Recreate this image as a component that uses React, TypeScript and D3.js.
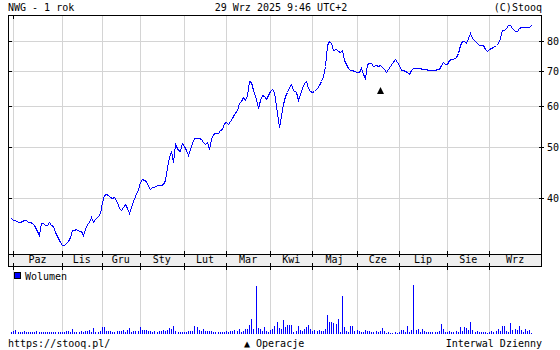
import React from "react";
import * as d3 from "d3";

// ---- data ----
const prices: number[] = [
  36.6, 36.3, 36.2, 36.0, 35.9, 36.1, 36.3, 36.2, 35.9, 35.9,
  35.8, 35.4, 34.8, 34.0, 35.8, 35.8, 35.5, 35.5, 35.9, 35.5,
  35.3, 34.4, 33.5, 32.9, 32.5, 32.4, 32.7, 33.1, 33.7, 34.7,
  34.7, 34.9, 34.5, 34.5, 34.0, 34.8, 35.7, 35.9, 36.8, 36.0,
  36.4, 36.9, 37.4, 39.3, 40.5, 40.7, 40.5, 40.2, 40.0, 40.1,
  39.2, 38.3, 37.9, 38.4, 38.9, 38.3, 37.4, 38.4, 39.4, 40.3,
  41.6, 42.9, 43.5, 43.3, 43.1, 42.2, 41.5, 41.9, 42.0, 42.4,
  42.4, 42.4, 42.5, 43.3, 45.9, 48.0, 49.1, 46.9, 50.8, 49.4,
  49.2, 51.0, 50.3, 49.4, 48.4, 49.7, 50.9, 52.1, 52.1, 52.1,
  51.9, 51.1, 50.8, 51.1, 49.7, 51.8, 53.1, 53.3, 53.3, 53.9,
  54.1, 55.7, 55.9, 55.4, 56.1, 57.0, 58.0, 58.9, 60.9, 61.4,
  62.3, 61.7, 63.0, 67.0, 66.7, 64.4, 62.0, 59.5, 61.6, 62.9,
  62.7, 62.0, 62.9, 64.2, 64.8, 63.9, 58.2, 54.7, 57.5, 60.6,
  62.6, 63.8, 65.4, 66.2, 64.4, 63.9, 61.6, 63.3, 65.1, 66.5,
  66.9, 64.9, 64.0, 63.8, 64.0, 64.9, 65.8, 67.0, 68.5, 71.6,
  78.4, 80.0, 79.2, 76.9, 77.3, 76.6, 76.2, 76.9, 73.6, 72.1,
  71.1, 70.2, 70.2, 70.1, 69.8, 69.8, 71.0, 69.1, 67.8, 72.1,
  72.6, 72.4, 71.6, 71.9, 71.5, 71.8, 71.4, 70.7, 69.7, 70.7,
  71.5, 72.4, 74.0, 73.0, 71.8, 70.4, 70.2, 70.0, 69.8, 69.0,
  70.5, 71.1, 71.1, 71.1, 71.0, 70.8, 70.7, 70.7, 70.4, 70.4,
  70.4, 70.5, 70.6, 70.8, 72.0, 72.8, 72.2, 72.3, 73.6, 73.8,
  73.8, 74.4, 76.0, 78.4, 79.8, 79.8, 79.3, 80.9, 82.7, 81.0,
  79.9, 79.2, 78.6, 78.6, 78.4, 77.3, 76.4, 77.2, 77.6, 78.0,
  78.4, 79.3, 81.1, 83.8, 84.0, 84.6, 86.0, 85.9, 84.8, 83.5,
  83.4, 84.6, 85.0, 85.0, 85.0, 85.0, 85.2, 85.7,
];

// volume, thousands of shares
const volumes: number[] = [
  2, 3, 4, 2, 2, 2, 3, 2, 2, 2,
  2, 2, 3, 2, 2, 2, 2, 2, 2, 2,
  2, 2, 2, 2, 2, 2.5, 3, 3, 2, 5,
  2, 2, 2, 3, 2, 3, 3, 4, 2, 6,
  2, 2, 3, 7, 7, 3, 3, 3, 2, 2,
  3, 3, 3, 4, 2, 4, 6, 2, 3, 3,
  3, 7, 4, 4, 4, 3, 3, 2, 3, 2,
  3, 3, 4, 3, 4, 6, 5, 8, 3, 2,
  2, 2, 2, 2, 3, 3, 3, 8, 7, 4,
  3, 5, 3, 3, 3, 3, 2, 2, 2, 2,
  2, 2, 3, 2, 3, 3, 4, 3, 5, 2,
  3, 5, 5, 9, 15, 5, 48, 6, 5, 3,
  7, 3, 2, 4, 5, 8, 12, 6, 5, 14,
  7, 9, 9, 9, 2, 3, 8, 4, 3, 5,
  7, 9, 5, 3, 4, 3, 4, 3, 3, 5,
  19, 12, 12, 11, 10, 15, 2, 38, 7, 3,
  2, 8, 8, 3, 4, 3, 2, 2, 4, 3,
  3, 2, 2, 3, 2, 3, 6, 3, 1, 2,
  1, 1, 2, 1, 2, 4, 4, 2, 8, 2,
  4, 49, 4, 5, 2, 5, 3, 2, 2, 2,
  2, 2, 2, 3, 10, 5, 2, 2, 3, 2,
  2, 3, 2, 7, 3, 7, 6, 4, 12, 4,
  2, 3, 2, 2, 2, 2, 1.5, 2, 3, 2,
  3, 5, 3, 8, 8, 3, 2, 11, 4, 5,
  4, 8, 4, 2, 5, 3, 4, 1.5,
];

// index of first session of each month, and the month labels
const monthStarts: number[] = [1, 24, 43, 61, 82, 102, 123, 143, 164, 184, 207, 227];
const monthLabels: string[] = ["Paz", "Lis", "Gru", "Sty", "Lut", "Mar", "Kwi", "Maj", "Cze", "Lip", "Sie", "Wrz"];
const priceTicks: number[] = [40, 50, 60, 70, 80];
const operationIndex = 175;

const W = 560;
const H = 350;
const L = 8;
const R = 541;
const TOP = 15;
const BAND_T = 254;
const BAND_B = 266;
const VOL_B = 334;

const FONT = "'DejaVu Sans Mono', 'Liberation Mono', monospace";
const GRID = "#d4d4d4";

export default function App() {
  const n = prices.length;
  const x = d3.scaleLinear().domain([0, n - 1]).range([11.2, 531.4]);
  const y = d3.scaleLog().domain([31.2, 89.7]).range([BAND_T, TOP]);
  const yv = d3
    .scaleLinear()
    .domain([0, (d3.max(volumes) as number) * 1.39])
    .range([VOL_B, BAND_B]);

  const line = d3
    .line<number>()
    .x((_, i) => Math.round(x(i)) + 0.5)
    .y((d) => Math.round(y(d)) + 0.5);

  const px = (v: number) => Math.round(v) + 0.5;

  const monthPx = monthStarts.map((m) => px(x(m)));
  const labelCenters = monthStarts.map((m, k) => {
    const a = x(m);
    const b = k < monthStarts.length - 1 ? x(monthStarts[k + 1]) : R;
    return (a + b) / 2;
  });

  const opX = px(x(operationIndex));
  const opY = Math.round(y(prices[operationIndex])) + 22;

  return (
    <svg
      width={W}
      height={H}
      style={{ position: "absolute", left: 0, top: 0, background: "#fff" }}
      fontFamily={FONT}
      fontSize={10}
    >
      <rect x={0} y={0} width={W} height={H} fill="#fff" />
      {/* header */}
      <text x={L} y={11} fill="#000">NWG - 1 rok</text>
      <text x={281} y={11} fill="#000" textAnchor="middle">29 Wrz 2025 9:46 UTC+2</text>
      <text x={R + 1} y={11} fill="#000" textAnchor="end">(C)Stooq</text>

      {/* horizontal gridlines */}
      <g shapeRendering="crispEdges">
        {priceTicks.map((t) => (
          <line key={"h" + t} x1={L} x2={R} y1={px(y(t))} y2={px(y(t))} stroke={GRID} />
        ))}
        {monthPx.map((mx, k) => (
          <g key={"v" + k}>
            <line x1={mx} x2={mx} y1={TOP} y2={BAND_T} stroke={GRID} />
            <line x1={mx} x2={mx} y1={BAND_B} y2={VOL_B} stroke={GRID} />
          </g>
        ))}
      </g>

      {/* band */}
      <rect x={L} y={BAND_T} width={R - L} height={BAND_B - BAND_T} fill="#efefef" />
      <g shapeRendering="crispEdges" stroke="#000">
        {monthPx.map((mx, k) => (
          <g key={"bt" + k}>
            <line x1={mx} x2={mx} y1={BAND_T - 3} y2={BAND_T + 3} />
            <line x1={mx} x2={mx} y1={BAND_B - 3} y2={BAND_B + 4} />
          </g>
        ))}
        {priceTicks.map((t) => (
          <g key={"tk" + t}>
            <line x1={L} x2={L + 4} y1={px(y(t))} y2={px(y(t))} />
            <line x1={R - 2} x2={R + 3} y1={px(y(t))} y2={px(y(t))} />
          </g>
        ))}
        <line x1={px(x(monthStarts[0]))} x2={px(x(monthStarts[0]))} y1={TOP} y2={TOP + 4} />
        {/* frame */}
        <line x1={L + 0.5} x2={L + 0.5} y1={TOP} y2={BAND_B + 1} />
        <line x1={R + 0.5} x2={R + 0.5} y1={TOP} y2={BAND_B + 1} />
        <line x1={L} x2={R + 1} y1={TOP + 0.5} y2={TOP + 0.5} />
        <line x1={L} x2={R + 1} y1={BAND_T + 0.5} y2={BAND_T + 0.5} />
        <line x1={L} x2={R + 1} y1={BAND_B + 0.5} y2={BAND_B + 0.5} />
      </g>
      {monthLabels.map((m, k) => (
        <text key={"ml" + k} x={labelCenters[k]} y={263} textAnchor="middle" fill="#000">
          {m}
        </text>
      ))}
      {priceTicks.map((t) => (
        <text key={"pl" + t} x={547} y={px(y(t)) + 3.5} fill="#000">
          {t}
        </text>
      ))}

      {/* price line */}
      <path d={line(prices) as string} fill="none" stroke="#0000ff" strokeWidth={1} shapeRendering="crispEdges" />

      {/* operation marker */}
      <path
        d={`M${opX},${opY} L${opX + 3.5},${opY + 7} L${opX - 3.5},${opY + 7} Z`}
        fill="#000"
      />

      {/* volume */}
      <g shapeRendering="crispEdges">
        {volumes.map((v, i) => (
          <rect
            key={"vb" + i}
            x={Math.round(x(i))}
            y={Math.round(yv(v))}
            width={1}
            height={VOL_B - Math.round(yv(v))}
            fill="#0000ff"
          />
        ))}
        <rect x={14.5} y={272.5} width={6} height={6} fill="#0000ff" stroke="#000" />
      </g>
      <text x={25} y={279.5} fill="#000">Wolumen</text>

      {/* footer */}
      <text x={L} y={347} fill="#000">https://stooq.pl/</text>
      <text x={244} y={347} fill="#000">▲ Operacje</text>
      <text x={R + 1} y={347} fill="#000" textAnchor="end">Interwal Dzienny</text>
    </svg>
  );
}
